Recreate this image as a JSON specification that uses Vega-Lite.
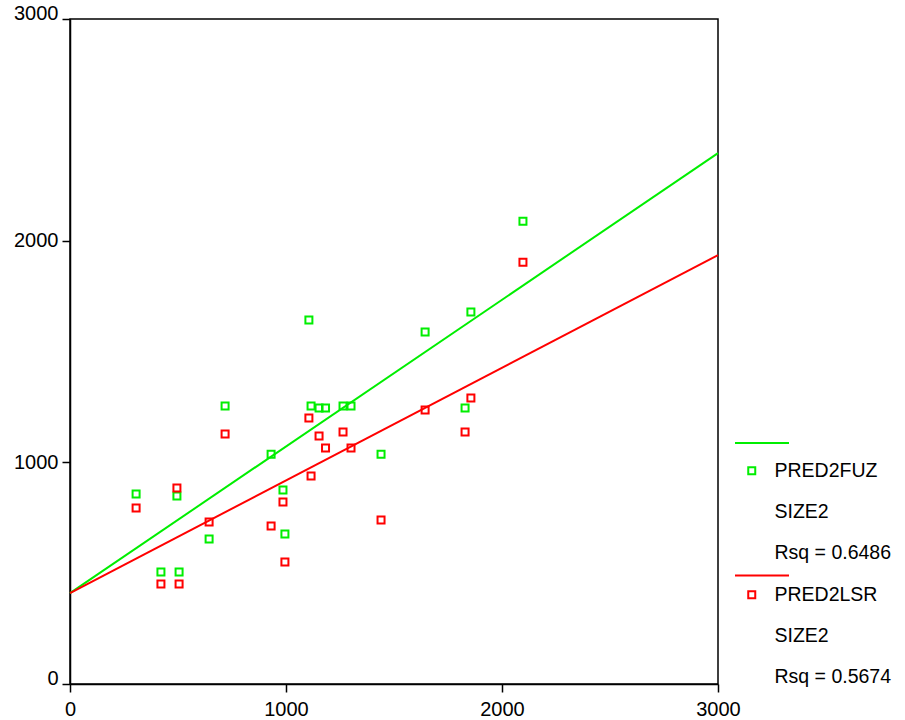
{
  "$schema": "https://vega.github.io/schema/vega-lite/v6.json",
  "width": 648,
  "height": 665,
  "autosize": {"type": "none"},
  "padding": {"left": 70, "top": 19, "right": 187, "bottom": 36},
  "background": "white",
  "config": {
    "view": {"stroke": "black", "strokeWidth": 1.5},
    "axis": {
      "grid": false,
      "labelFont": "Liberation Sans",
      "labelFontSize": 20,
      "labelColor": "black",
      "domainColor": "black",
      "domainWidth": 1.5,
      "tickColor": "black",
      "tickWidth": 1.5,
      "tickSize": 8,
      "title": null,
      "labelFlush": false
    },
    "legend": {
      "labelFont": "Liberation Sans",
      "labelFontSize": 19.5,
      "labelColor": "black"
    }
  },
  "datasets": {
    "points": [
      {"size2": 306, "pred": 857, "series": "PRED2FUZ"},
      {"size2": 495, "pred": 848, "series": "PRED2FUZ"},
      {"size2": 421, "pred": 505, "series": "PRED2FUZ"},
      {"size2": 505, "pred": 505, "series": "PRED2FUZ"},
      {"size2": 644, "pred": 654, "series": "PRED2FUZ"},
      {"size2": 718, "pred": 1254, "series": "PRED2FUZ"},
      {"size2": 931, "pred": 1037, "series": "PRED2FUZ"},
      {"size2": 986, "pred": 875, "series": "PRED2FUZ"},
      {"size2": 995, "pred": 677, "series": "PRED2FUZ"},
      {"size2": 1106, "pred": 1642, "series": "PRED2FUZ"},
      {"size2": 1116, "pred": 1254, "series": "PRED2FUZ"},
      {"size2": 1153, "pred": 1245, "series": "PRED2FUZ"},
      {"size2": 1183, "pred": 1245, "series": "PRED2FUZ"},
      {"size2": 1264, "pred": 1254, "series": "PRED2FUZ"},
      {"size2": 1301, "pred": 1254, "series": "PRED2FUZ"},
      {"size2": 1440, "pred": 1037, "series": "PRED2FUZ"},
      {"size2": 1644, "pred": 1588, "series": "PRED2FUZ"},
      {"size2": 1829, "pred": 1245, "series": "PRED2FUZ"},
      {"size2": 1856, "pred": 1678, "series": "PRED2FUZ"},
      {"size2": 2097, "pred": 2088, "series": "PRED2FUZ"},
      {"size2": 306, "pred": 794, "series": "PRED2LSR"},
      {"size2": 495, "pred": 884, "series": "PRED2LSR"},
      {"size2": 421, "pred": 451, "series": "PRED2LSR"},
      {"size2": 505, "pred": 451, "series": "PRED2LSR"},
      {"size2": 644, "pred": 731, "series": "PRED2LSR"},
      {"size2": 718, "pred": 1128, "series": "PRED2LSR"},
      {"size2": 931, "pred": 713, "series": "PRED2LSR"},
      {"size2": 986, "pred": 821, "series": "PRED2LSR"},
      {"size2": 995, "pred": 550, "series": "PRED2LSR"},
      {"size2": 1106, "pred": 1200, "series": "PRED2LSR"},
      {"size2": 1116, "pred": 938, "series": "PRED2LSR"},
      {"size2": 1153, "pred": 1119, "series": "PRED2LSR"},
      {"size2": 1183, "pred": 1065, "series": "PRED2LSR"},
      {"size2": 1264, "pred": 1137, "series": "PRED2LSR"},
      {"size2": 1301, "pred": 1065, "series": "PRED2LSR"},
      {"size2": 1440, "pred": 740, "series": "PRED2LSR"},
      {"size2": 1644, "pred": 1236, "series": "PRED2LSR"},
      {"size2": 1829, "pred": 1137, "series": "PRED2LSR"},
      {"size2": 1856, "pred": 1290, "series": "PRED2LSR"},
      {"size2": 2097, "pred": 1903, "series": "PRED2LSR"}
    ],
    "fits": [
      {"size2": 0, "pred": 410, "series": "PRED2FUZ"},
      {"size2": 3000, "pred": 2395, "series": "PRED2FUZ"},
      {"size2": 0, "pred": 410, "series": "PRED2LSR"},
      {"size2": 3000, "pred": 1935, "series": "PRED2LSR"}
    ]
  },
  "layer": [
    {
      "data": {"name": "fits"},
      "mark": {"type": "line", "strokeWidth": 2},
      "encoding": {
        "x": {"field": "size2", "type": "quantitative", "scale": {"domain": [0, 3000], "nice": false},
              "axis": {"values": [0, 1000, 2000, 3000], "format": "d", "labelPadding": 7}},
        "y": {"field": "pred", "type": "quantitative", "scale": {"domain": [0, 3000], "nice": false},
              "axis": {"values": [0, 1000, 2000, 3000], "format": "d", "labelPadding": 4,
                       "labelBaseline": {"condition": {"test": "datum.value == 1000 || datum.value == 2000", "value": "middle"}, "value": "alphabetic"}}},
        "stroke": {"field": "series", "type": "nominal",
                   "scale": {"domain": ["PRED2FUZ", "PRED2LSR"], "range": ["#00ee00", "#ff0000"]},
                   "legend": {
                     "orient": "none",
                     "legendX": 664,
                     "legendY": 396,
                     "title": null,
                     "padding": 0,
                     "symbolOffset": 0,
                     "symbolType": "stroke",
                     "symbolSize": 2916,
                     "symbolStrokeWidth": 2,
                     "rowPadding": 94.5,
                     "labelExpr": "''"
                   }},
        "detail": {"field": "series"}
      }
    },
    {
      "data": {"name": "points"},
      "mark": {"type": "point", "shape": "square", "filled": false, "size": 49, "strokeWidth": 2, "opacity": 1},
      "encoding": {
        "x": {"field": "size2", "type": "quantitative"},
        "y": {"field": "pred", "type": "quantitative"},
        "color": {
          "field": "series", "type": "nominal",
          "scale": {
            "domain": ["PRED2FUZ", "SIZE2 (FUZ)", "Rsq = 0.6486", "PRED2LSR", "SIZE2 (LSR)", "Rsq = 0.5674"],
            "range": ["#00ee00", "rgba(0,0,0,0)", "rgba(0,0,0,0)", "#ff0000", "rgba(0,0,0,0)", "rgba(0,0,0,0)"]
          },
          "legend": {
            "orient": "none",
            "legendX": 672,
            "legendY": 442,
            "title": null,
            "padding": 0,
            "symbolOffset": 0,
            "labelOffset": 13,
            "rowPadding": 20.3,
            "symbolSize": 49,
            "symbolStrokeWidth": 2,
            "labelExpr": "replace(replace(datum.value, ' (FUZ)', ''), ' (LSR)', '')"
          }
        }
      }
    }
  ]
}
